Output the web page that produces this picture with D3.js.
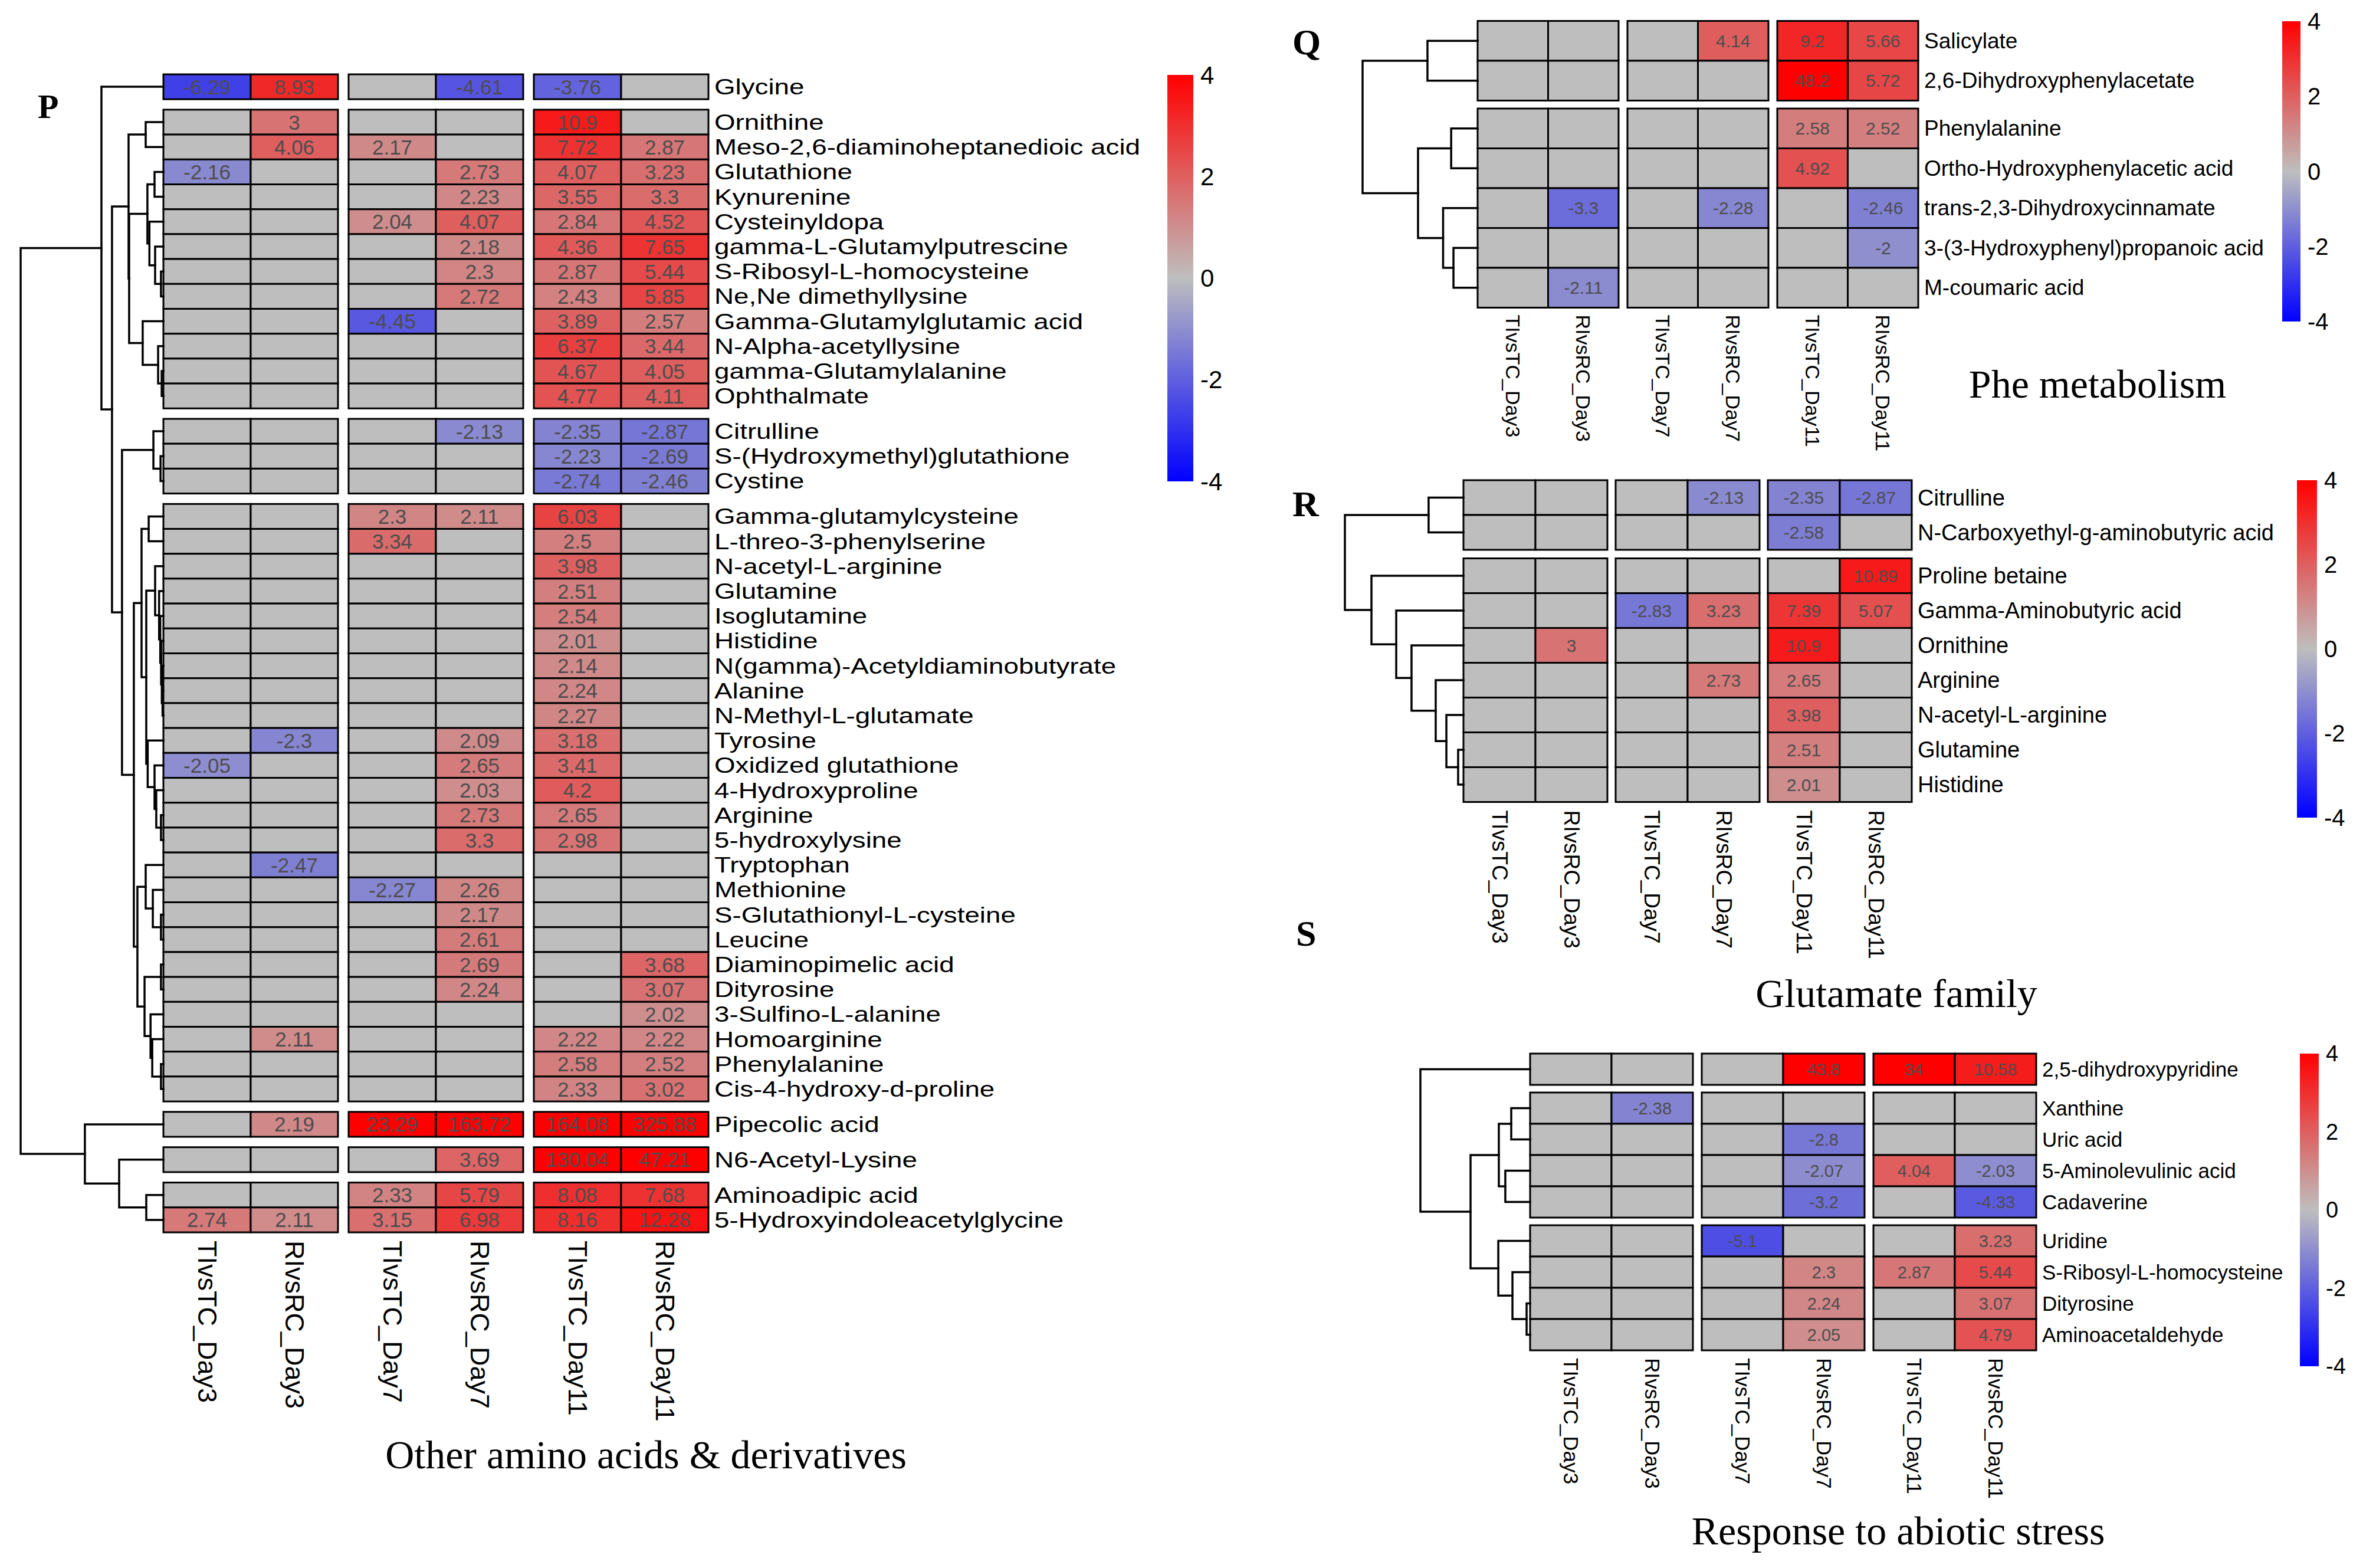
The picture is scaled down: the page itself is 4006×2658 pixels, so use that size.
<!DOCTYPE html>
<html><head><meta charset="utf-8">
<script src="https://cdn.jsdelivr.net/npm/d3@7"></script>
<style>html,body{margin:0;padding:0;background:#fff;}svg{display:block;}</style>
</head><body>
<script>
// ---------------- DATA ----------------
const columns = ["TIvsTC_Day3","RIvsRC_Day3","TIvsTC_Day7","RIvsRC_Day7","TIvsTC_Day11","RIvsRC_Day11"];
const legendTicks = [4, 2, 0, -2, -4];

// Panel P: Other amino acids & derivatives
const pRows = ["Glycine","Ornithine","Meso-2,6-diaminoheptanedioic acid","Glutathione","Kynurenine","Cysteinyldopa",
 "gamma-L-Glutamylputrescine","S-Ribosyl-L-homocysteine","Ne,Ne dimethyllysine","Gamma-Glutamylglutamic acid",
 "N-Alpha-acetyllysine","gamma-Glutamylalanine","Ophthalmate","Citrulline","S-(Hydroxymethyl)glutathione","Cystine",
 "Gamma-glutamylcysteine","L-threo-3-phenylserine","N-acetyl-L-arginine","Glutamine","Isoglutamine","Histidine",
 "N(gamma)-Acetyldiaminobutyrate","Alanine","N-Methyl-L-glutamate","Tyrosine","Oxidized glutathione","4-Hydroxyproline",
 "Arginine","5-hydroxylysine","Tryptophan","Methionine","S-Glutathionyl-L-cysteine","Leucine","Diaminopimelic acid",
 "Dityrosine","3-Sulfino-L-alanine","Homoarginine","Phenylalanine","Cis-4-hydroxy-d-proline","Pipecolic acid",
 "N6-Acetyl-Lysine","Aminoadipic acid","5-Hydroxyindoleacetylglycine"];
const pValues = [
 [-6.29, 8.93, 0, -4.61, -3.76, 0],
 [0, 3, 0, 0, 10.9, 0],
 [0, 4.06, 2.17, 0, 7.72, 2.87],
 [-2.16, 0, 0, 2.73, 4.07, 3.23],
 [0, 0, 0, 2.23, 3.55, 3.3],
 [0, 0, 2.04, 4.07, 2.84, 4.52],
 [0, 0, 0, 2.18, 4.36, 7.65],
 [0, 0, 0, 2.3, 2.87, 5.44],
 [0, 0, 0, 2.72, 2.43, 5.85],
 [0, 0, -4.45, 0, 3.89, 2.57],
 [0, 0, 0, 0, 6.37, 3.44],
 [0, 0, 0, 0, 4.67, 4.05],
 [0, 0, 0, 0, 4.77, 4.11],
 [0, 0, 0, -2.13, -2.35, -2.87],
 [0, 0, 0, 0, -2.23, -2.69],
 [0, 0, 0, 0, -2.74, -2.46],
 [0, 0, 2.3, 2.11, 6.03, 0],
 [0, 0, 3.34, 0, 2.5, 0],
 [0, 0, 0, 0, 3.98, 0],
 [0, 0, 0, 0, 2.51, 0],
 [0, 0, 0, 0, 2.54, 0],
 [0, 0, 0, 0, 2.01, 0],
 [0, 0, 0, 0, 2.14, 0],
 [0, 0, 0, 0, 2.24, 0],
 [0, 0, 0, 0, 2.27, 0],
 [0, -2.3, 0, 2.09, 3.18, 0],
 [-2.05, 0, 0, 2.65, 3.41, 0],
 [0, 0, 0, 2.03, 4.2, 0],
 [0, 0, 0, 2.73, 2.65, 0],
 [0, 0, 0, 3.3, 2.98, 0],
 [0, -2.47, 0, 0, 0, 0],
 [0, 0, -2.27, 2.26, 0, 0],
 [0, 0, 0, 2.17, 0, 0],
 [0, 0, 0, 2.61, 0, 0],
 [0, 0, 0, 2.69, 0, 3.68],
 [0, 0, 0, 2.24, 0, 3.07],
 [0, 0, 0, 0, 0, 2.02],
 [0, 2.11, 0, 0, 2.22, 2.22],
 [0, 0, 0, 0, 2.58, 2.52],
 [0, 0, 0, 0, 2.33, 3.02],
 [0, 2.19, 23.29, 163.72, 164.08, 325.88],
 [0, 0, 0, 3.69, 130.04, 47.21],
 [0, 0, 2.33, 5.79, 8.08, 7.68],
 [2.74, 2.11, 3.15, 6.98, 8.16, 12.28]
];
const pGroupSizes = [1, 12, 3, 24, 1, 1, 2];
const pTree = [1.0,
  [0.434, "Glycine",
    [0.36,
      [0.244, [0.124, "Ornithine", "Meso-2,6-diaminoheptanedioic acid"],
        [0.240,
          [0.112, [0.062, "Glutathione", "Kynurenine"],
                  [0.098, "Cysteinyldopa", [0.058, "gamma-L-Glutamylputrescine", [0.017, "S-Ribosyl-L-homocysteine", "Ne,Ne dimethyllysine"]]]],
          [0.145, "Gamma-Glutamylglutamic acid", [0.037, "N-Alpha-acetyllysine", [0.012, "gamma-Glutamylalanine", "Ophthalmate"]]]]],
      [0.29,
        [0.07, "Citrulline", [0.02, "S-(Hydroxymethyl)glutathione", "Cystine"]],
        [0.207,
          [0.153,
            [0.103, "Gamma-glutamylcysteine", "L-threo-3-phenylserine"],
            [0.12,
              [0.058, "N-acetyl-L-arginine", [0.03, "Glutamine", [0.022, "Isoglutamine", [0.016, "Histidine", [0.011, "N(gamma)-Acetyldiaminobutyrate", [0.006, "Alanine", "N-Methyl-L-glutamate"]]]]]],
              [0.11, "Tyrosine", [0.062, "Oxidized glutathione", [0.05, "4-Hydroxyproline", [0.017, "Arginine", "5-hydroxylysine"]]]]]],
          [0.182,
            [0.124, "Tryptophan", [0.074, "Methionine", [0.017, "S-Glutathionyl-L-cysteine", "Leucine"]]],
            [0.132, [0.017, "Diaminopimelic acid", "Dityrosine"],
                    [0.09, "3-Sulfino-L-alanine", [0.078, "Homoarginine", [0.017, "Phenylalanine", "Cis-4-hydroxy-d-proline"]]]]]]]]],
  [0.55, "Pipecolic acid", [0.31, "N6-Acetyl-Lysine", [0.12, "Aminoadipic acid", "5-Hydroxyindoleacetylglycine"]]]
];

// Panel Q: Phe metabolism
const qRows = ["Salicylate","2,6-Dihydroxyphenylacetate","Phenylalanine","Ortho-Hydroxyphenylacetic acid",
 "trans-2,3-Dihydroxycinnamate","3-(3-Hydroxyphenyl)propanoic acid","M-coumaric acid"];
const qValues = [
 [0, 0, 0, 4.14, 9.2, 5.66],
 [0, 0, 0, 0, 48.2, 5.72],
 [0, 0, 0, 0, 2.58, 2.52],
 [0, 0, 0, 0, 4.92, 0],
 [0, -3.3, 0, -2.28, 0, -2.46],
 [0, 0, 0, 0, 0, -2],
 [0, -2.11, 0, 0, 0, 0]
];
const qGroupSizes = [2, 5];
const qTree = [1.0,
  [0.436, "Salicylate", "2,6-Dihydroxyphenylacetate"],
  [0.518, [0.23, "Phenylalanine", "Ortho-Hydroxyphenylacetic acid"],
          [0.30, "trans-2,3-Dihydroxycinnamate", [0.21, "3-(3-Hydroxyphenyl)propanoic acid", "M-coumaric acid"]]]
];

// Panel R: Glutamate family
const rRows = ["Citrulline","N-Carboxyethyl-g-aminobutyric acid","Proline betaine","Gamma-Aminobutyric acid",
 "Ornithine","Arginine","N-acetyl-L-arginine","Glutamine","Histidine"];
const rValues = [
 [0, 0, 0, -2.13, -2.35, -2.87],
 [0, 0, 0, 0, -2.58, 0],
 [0, 0, 0, 0, 0, 10.89],
 [0, 0, -2.83, 3.23, 7.39, 5.07],
 [0, 3, 0, 0, 10.9, 0],
 [0, 0, 0, 2.73, 2.65, 0],
 [0, 0, 0, 0, 3.98, 0],
 [0, 0, 0, 0, 2.51, 0],
 [0, 0, 0, 0, 2.01, 0]
];
const rGroupSizes = [2, 7];
const rTree = [1.0,
  [0.294, "Citrulline", "N-Carboxyethyl-g-aminobutyric acid"],
  [0.776, "Proline betaine",
    [0.567, "Gamma-Aminobutyric acid",
      [0.438, "Ornithine",
        [0.234, "Arginine",
          [0.144, "N-acetyl-L-arginine", [0.045, "Glutamine", "Histidine"]]]]]]
];

// Panel S: Response to abiotic stress
const sRows = ["2,5-dihydroxypyridine","Xanthine","Uric acid","5-Aminolevulinic acid","Cadaverine","Uridine",
 "S-Ribosyl-L-homocysteine","Dityrosine","Aminoacetaldehyde"];
const sValues = [
 [0, 0, 0, 43.8, 34, 10.58],
 [0, -2.38, 0, 0, 0, 0],
 [0, 0, 0, -2.8, 0, 0],
 [0, 0, 0, -2.07, 4.04, -2.03],
 [0, 0, 0, -3.2, 0, -4.33],
 [0, 0, -5.1, 0, 0, 3.23],
 [0, 0, 0, 2.3, 2.87, 5.44],
 [0, 0, 0, 2.24, 0, 3.07],
 [0, 0, 0, 2.05, 0, 4.79]
];
const sGroupSizes = [1, 4, 4];
const sTree = [1.0,
  "2,5-dihydroxypyridine",
  [0.543,
    [0.285, [0.172, "Xanthine", "Uric acid"], [0.226, "5-Aminolevulinic acid", "Cadaverine"]],
    [0.29, "Uridine", [0.161, "S-Ribosyl-L-homocysteine", [0.032, "Dityrosine", "Aminoacetaldehyde"]]]]
];

// ---------------- LAYOUT / STYLE ----------------
const SANS = "'Liberation Sans', Arial, sans-serif";
const SERIF = "'Liberation Serif', 'Times New Roman', serif";
const BLUE = "#0000FF", GREY = "#BEBEBE", RED = "#FF0000";

const panels = [
 {rows: pRows, values: pValues, groups: pGroupSizes, tree: pTree, title: "Other amino acids & derivatives", letter: "P",
  x0: 277, colW: 148, colGap: 18, y0: 126, rowH: 42.2, rowGap: 17.7, rootX: 35,
  labelSize: 37.5, labelStretch: 1.22, cellSize: 35, colLabelSize: 45, colLabelGap: 14,
  bar: {x: 1979, w: 44, y0: 127, y1: 816, size: 42},
  titlePos: {x: 1095, y: 2489, size: 68}, letterPos: {x: 64, y: 200, size: 58}},
 {rows: qRows, values: qValues, groups: qGroupSizes, tree: qTree, title: "Phe metabolism", letter: "Q",
  x0: 2505, colW: 119.5, colGap: 15, y0: 35.5, rowH: 67.5, rowGap: 13.5, rootX: 2310,
  labelSize: 37, labelStretch: 1, cellSize: 30, colLabelSize: 34, colLabelGap: 12,
  bar: {x: 3869, w: 31, y0: 36, y1: 545, size: 40},
  titlePos: {x: 3556, y: 674, size: 68}, letterPos: {x: 2191, y: 92, size: 62}},
 {rows: rRows, values: rValues, groups: rGroupSizes, tree: rTree, title: "Glutamate family", letter: "R",
  x0: 2481, colW: 122, colGap: 14, y0: 814, rowH: 59, rowGap: 14.5, rootX: 2280,
  labelSize: 38, labelStretch: 1, cellSize: 30, colLabelSize: 37, colLabelGap: 14,
  bar: {x: 3894, w: 34, y0: 814, y1: 1386, size: 40},
  titlePos: {x: 3215, y: 1707, size: 68}, letterPos: {x: 2191, y: 875, size: 62}},
 {rows: sRows, values: sValues, groups: sGroupSizes, tree: sTree, title: "Response to abiotic stress", letter: "S",
  x0: 2594, colW: 138, colGap: 15, y0: 1786, rowH: 53, rowGap: 13, rootX: 2408,
  labelSize: 35, labelStretch: 1, cellSize: 29, colLabelSize: 35, colLabelGap: 13,
  bar: {x: 3899, w: 32, y0: 1786, y1: 2316, size: 38},
  titlePos: {x: 3218, y: 2618, size: 68}, letterPos: {x: 2197, y: 1603, size: 62}}
];

const W = 4006, H = 2658;
const svg = d3.select("body").append("svg").attr("width", W).attr("height", H).attr("viewBox", `0 0 ${W} ${H}`);
svg.append("rect").attr("width", W).attr("height", H).attr("fill", "#fff");

const color = d3.scaleLinear().domain([-4, 0, 4]).range([BLUE, GREY, RED]).clamp(true);
const toLog = v => v === 0 ? 0 : Math.sign(v) * Math.log2(Math.abs(v));

const defs = svg.append("defs");
const grad = defs.append("linearGradient").attr("id", "cbar").attr("x1", 0).attr("y1", 0).attr("x2", 0).attr("y2", 1);
d3.range(0, 1.0001, 0.05).forEach(t => grad.append("stop").attr("offset", t).attr("stop-color", color(4 - 8 * t)));

const days = ["Day3", "Day7", "Day11"];

panels.forEach(p => {
  const g = svg.append("g");
  const n = p.rows.length;
  const breaks = d3.cumsum(p.groups).slice(0, -1);
  const yScale = d3.scaleLinear().domain([0, n]).range([p.y0, p.y0 + n * p.rowH]);
  const rowTop = i => yScale(i) + d3.bisectRight(breaks, i) * p.rowGap;
  const rowIndex = new Map(p.rows.map((r, i) => [r, i]));
  const totalW = 6 * p.colW + 2 * p.colGap;
  const dayScale = d3.scaleBand().domain(days).range([p.x0, p.x0 + totalW]).paddingInner(p.colGap / (2 * p.colW + p.colGap));
  const subScale = d3.scaleBand().domain(["TI", "RI"]).range([0, dayScale.bandwidth()]);
  const colX = j => dayScale(columns[j].split("_")[1]) + subScale(columns[j].slice(0, 2));
  const right = p.x0 + totalW;

  // cells
  const cells = [];
  p.values.forEach((row, i) => row.forEach((v, j) => cells.push({i, j, v})));
  g.selectAll("rect.cell").data(cells).join("rect")
    .attr("x", d => colX(d.j)).attr("y", d => rowTop(d.i))
    .attr("width", subScale.bandwidth()).attr("height", p.rowH)
    .attr("fill", d => color(toLog(d.v)))
    .attr("stroke", "#000").attr("stroke-width", 3);
  g.selectAll("text.val").data(cells.filter(d => d.v !== 0)).join("text")
    .attr("x", d => colX(d.j) + subScale.bandwidth() / 2).attr("y", d => rowTop(d.i) + p.rowH / 2)
    .attr("text-anchor", "middle").attr("dominant-baseline", "central")
    .attr("font-family", SANS).attr("font-size", p.cellSize).attr("fill", "#4d4d4d")
    .text(d => String(d.v));

  // row labels
  g.selectAll("text.rl").data(p.rows).join("text")
    .attr("transform", (d, i) => `translate(${right + 10},${rowTop(i) + p.rowH / 2}) scale(${p.labelStretch},1)`)
    .attr("dominant-baseline", "central")
    .attr("font-family", SANS).attr("font-size", p.labelSize).attr("fill", "#000")
    .text(d => d);

  // column labels
  const bottom = rowTop(n - 1) + p.rowH;
  g.selectAll("text.cl").data(columns).join("text")
    .attr("transform", (d, j) => `translate(${colX(j) + subScale.bandwidth() / 2},${bottom + p.colLabelGap}) rotate(90)`)
    .attr("dominant-baseline", "central")
    .attr("font-family", SANS).attr("font-size", p.colLabelSize).attr("fill", "#000")
    .text(d => d);

  // dendrogram
  const hScale = d3.scaleLinear().domain([0, 1]).range([p.x0, p.rootX]);
  const dg = g.append("g").attr("fill", "none").attr("stroke", "#000").attr("stroke-width", 3.5).attr("stroke-linecap", "square");
  function layout(node) {
    if (typeof node === "string") {
      const i = rowIndex.get(node);
      return {x: p.x0, y: rowTop(i) + p.rowH / 2};
    }
    const [h, a, b] = node;
    const ca = layout(a), cb = layout(b);
    const x = hScale(h);
    const path = d3.path();
    path.moveTo(ca.x, ca.y); path.lineTo(x, ca.y); path.lineTo(x, cb.y); path.lineTo(cb.x, cb.y);
    dg.append("path").attr("d", path.toString());
    return {x, y: (ca.y + cb.y) / 2};
  }
  layout(p.tree);

  // colour bar
  const b = p.bar;
  const bScale = d3.scaleLinear().domain([4, -4]).range([b.y0, b.y1]);
  g.append("rect").attr("x", b.x).attr("y", b.y0).attr("width", b.w).attr("height", b.y1 - b.y0).attr("fill", "url(#cbar)");
  g.selectAll("text.tick").data(legendTicks).join("text")
    .attr("x", b.x + b.w + 12).attr("y", d => bScale(d))
    .attr("dominant-baseline", "central")
    .attr("font-family", SANS).attr("font-size", b.size).attr("fill", "#000")
    .text(d => d);

  // title & letter
  g.append("text").attr("x", p.titlePos.x).attr("y", p.titlePos.y).attr("text-anchor", "middle")
    .attr("font-family", SERIF).attr("font-size", p.titlePos.size).attr("fill", "#000").text(p.title);
  g.append("text").attr("x", p.letterPos.x).attr("y", p.letterPos.y)
    .attr("font-family", SERIF).attr("font-weight", "bold").attr("font-size", p.letterPos.size).attr("fill", "#000").text(p.letter);
});
</script>
</body></html>
